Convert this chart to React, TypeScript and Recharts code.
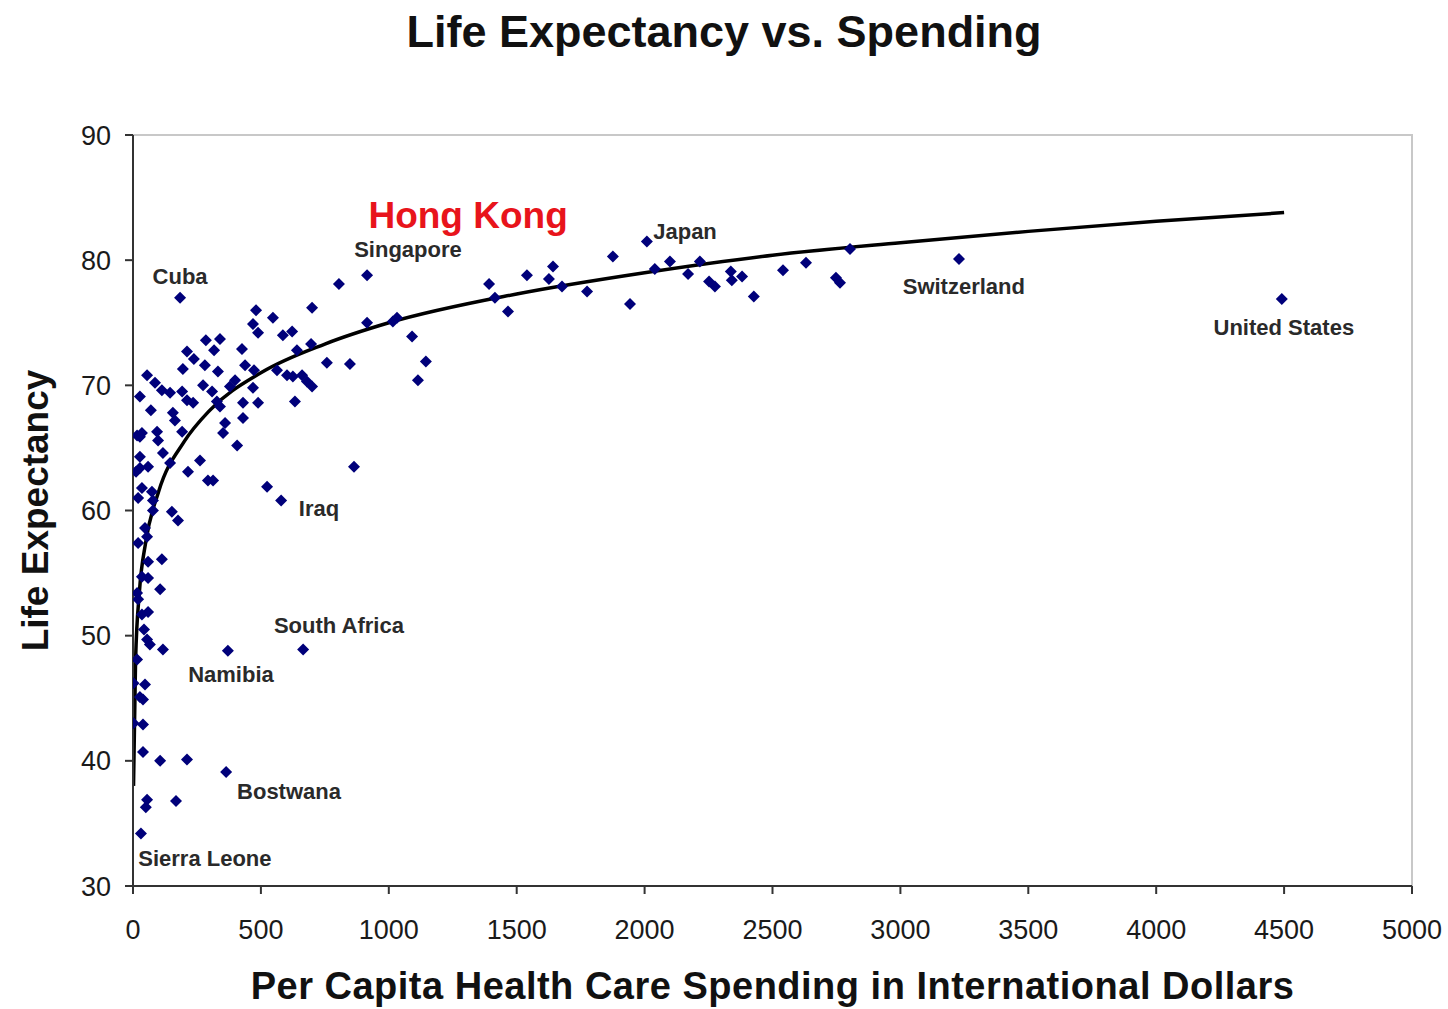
import React from 'react'
import {
  ComposedChart,
  Scatter,
  Line,
  XAxis,
  YAxis,
  ReferenceArea,
} from 'recharts'

// spending (international $) and life expectancy for each country
const spending = [
  184, 915, 2009, 3229, 4491, 579, 524, 665, 371, 364, 31,
  211, 106, 168, 50, 55, 39, 117, 55, 106, 113,
  481, 547, 700, 805, 469, 489, 586, 622, 285, 340,
  211, 238, 317, 426, 195, 281, 332, 438, 473, 641, 696,
  915, 1016, 1032, 1091, 1145, 1114, 758, 848,
  55, 86, 113, 145, 192, 211, 235,
  274, 309, 328, 340, 379, 399, 469, 489, 430,
  563, 602, 625, 661, 680, 700, 633,
  70, 156, 164, 94, 35, 98, 192, 117,
  360, 352, 430, 407,
  27, 27, 59, 145, 262, 215, 293, 313,
  35, 74, 78, 152, 176, 78, 864,
  47, 55, 20, 59, 35, 59, 16, 20, 59, 35, 66, 16, 2, 47, 27, 39, 2, 39,
  16, 27, 12, 27, 20, 43,
  1392, 1415, 1466, 1540, 1642, 1626, 1677, 1775, 1876, 1943,
  2040, 2099, 2170, 2216, 2252, 2275, 2337, 2341, 2381, 2427,
  2541, 2631, 2748, 2764, 2803,
]
const lifeExpectancy = [
  77.0, 78.8, 81.5, 80.1, 76.9, 60.8, 61.9, 48.9, 48.8, 39.1, 34.2,
  40.1, 40.0, 36.8, 36.3, 36.9, 40.7, 48.9, 49.7, 53.7, 56.1,
  76.0, 75.4, 76.2, 78.1, 74.9, 74.2, 74.0, 74.3, 73.6, 73.7,
  72.7, 72.1, 72.8, 72.9, 71.3, 71.6, 71.1, 71.6, 71.2, 72.8, 73.3,
  75.0, 75.1, 75.4, 73.9, 71.9, 70.4, 71.8, 71.7,
  70.8, 70.2, 69.6, 69.4, 69.5, 68.8, 68.6,
  70.0, 69.5, 68.7, 68.3, 69.9, 70.4, 69.8, 68.6, 68.6,
  71.2, 70.8, 70.7, 70.8, 70.3, 69.9, 68.7,
  68.0, 67.8, 67.2, 66.3, 66.2, 65.6, 66.3, 64.6,
  67.0, 66.2, 67.4, 65.2,
  64.3, 63.4, 63.5, 63.8, 64.0, 63.1, 62.4, 62.4,
  61.8, 61.5, 60.8, 59.9, 59.2, 60.0, 63.5,
  58.6, 57.9, 57.4, 55.9, 54.7, 54.6, 53.4, 52.9, 51.9, 51.7, 49.3, 48.1, 46.2, 46.1, 45.1, 44.9, 43.0, 42.9,
  66.0, 65.9, 63.1, 69.1, 61.0, 50.5,
  78.1, 77.0, 75.9, 78.8, 79.5, 78.5, 77.9, 77.5, 80.3, 76.5,
  79.3, 79.9, 78.9, 79.9, 78.3, 77.9, 79.1, 78.4, 78.7, 77.1,
  79.2, 79.8, 78.6, 78.2, 80.9,
]

// fitted trend curve
const trendSpending = [2, 10, 25, 50, 100, 200, 300, 500, 750, 1000, 1500, 2000, 2500, 3000, 3500, 4000, 4500]
const trendLife = [38, 48, 53.5, 57.5, 61.5, 65.5, 68, 71, 73.3, 75, 77.3, 79, 80.4, 81.4, 82.3, 83.1, 83.8]

// country annotations (text centre, in data units)
const labelText = ['Cuba', 'Singapore', 'Japan', 'Switzerland', 'United States', 'Iraq', 'South Africa', 'Namibia', 'Bostwana', 'Sierra Leone']
const labelX = [184, 1075, 2158, 3248, 4499, 727, 805, 383, 610, 281]
const labelY = [78.66, 80.85, 82.3, 77.86, 74.66, 60.13, 50.78, 46.87, 37.52, 32.17]

const highlightText = ['Hong Kong']
const highlightX = [1310]
const highlightY = [83.6]

const xTicks = [0, 500, 1000, 1500, 2000, 2500, 3000, 3500, 4000, 4500, 5000]
const yTicks = [30, 40, 50, 60, 70, 80, 90]

const points = spending.map((x, i) => ({ x, y: lifeExpectancy[i] }))
const trend = trendSpending.map((x, i) => ({ x, y: trendLife[i] }))
const labels = labelText.map((text, i) => ({ x: labelX[i], y: labelY[i], text }))
const highlights = highlightText.map((text, i) => ({ x: highlightX[i], y: highlightY[i], text }))

const FONT = '"Liberation Sans", Arial, sans-serif'

const Diamond = (props: any) => {
  const { cx, cy } = props
  const s = 6
  return (
    <polygon
      points={`${cx},${cy - s} ${cx + s},${cy} ${cx},${cy + s} ${cx - s},${cy}`}
      fill="#00007a"
    />
  )
}

const CountryLabel = (props: any) => {
  const { cx, cy, payload } = props
  return (
    <text x={cx} y={cy} textAnchor="middle" dominantBaseline="central"
      fontFamily={FONT} fontWeight="bold" fontSize={22} fill="#2a2a2a">
      {payload.text}
    </text>
  )
}

const HighlightLabel = (props: any) => {
  const { cx, cy, payload } = props
  return (
    <text x={cx} y={cy} textAnchor="middle" dominantBaseline="central"
      fontFamily={FONT} fontWeight="bold" fontSize={37} fill="#e8141b">
      {payload.text}
    </text>
  )
}

const YTitle = (props: any) => {
  const { viewBox } = props
  const x = viewBox.x + 35
  const y = viewBox.y + viewBox.height / 2
  return (
    <text x={x} y={y} transform={`rotate(-90, ${x}, ${y})`} textAnchor="middle"
      dominantBaseline="central" fontFamily={FONT} fontWeight="bold" fontSize={37} fill="#111">
      Life Expectancy
    </text>
  )
}

const XTitle = (props: any) => {
  const { viewBox } = props
  const x = viewBox.x + viewBox.width / 2
  const y = viewBox.y + 100
  return (
    <text x={x} y={y} textAnchor="middle" dominantBaseline="central"
      fontFamily={FONT} fontWeight="bold" fontSize={38} fill="#111" letterSpacing={0.5}>
      Per Capita Health Care Spending in International Dollars
    </text>
  )
}

const tickStyle = { fontFamily: FONT, fontSize: 27, fill: '#1a1a1a' }

export default function App() {
  return (
    <div style={{ position: 'absolute', left: 0, top: 0, width: 1448, height: 1009, background: '#fff' }}>
      <div style={{
        position: 'absolute', left: 0, top: 7, width: 1448, textAlign: 'center',
        fontFamily: FONT, fontWeight: 'bold', fontSize: 45, color: '#111', lineHeight: '50px',
      }}>
        Life Expectancy vs. Spending
      </div>
      <ComposedChart width={1448} height={1009} margin={{ top: 135, right: 36, bottom: 0, left: 0 }}>
        <ReferenceArea x1={0} x2={5000} y1={30} y2={90} fill="none" stroke="#c8c8c8" strokeWidth={2} ifOverflow="extendDomain" />
        <XAxis
          dataKey="x"
          type="number"
          domain={[0, 5000]}
          ticks={xTicks}
          allowDataOverflow
          tickSize={8}
          tickMargin={26}
          tick={tickStyle}
          axisLine={{ stroke: '#333', strokeWidth: 2 }}
          tickLine={{ stroke: '#333', strokeWidth: 2 }}
          height={123}
          label={<XTitle />}
        />
        <YAxis
          dataKey="y"
          type="number"
          domain={[30, 90]}
          ticks={yTicks}
          allowDataOverflow
          tickSize={8}
          tickMargin={14}
          tick={tickStyle}
          axisLine={{ stroke: '#333', strokeWidth: 2 }}
          tickLine={{ stroke: '#333', strokeWidth: 2 }}
          width={133}
          label={<YTitle />}
        />
        <Scatter data={points} shape={<Diamond />} isAnimationActive={false} />
        <Line data={trend} dataKey="y" type="monotone" stroke="#000" strokeWidth={3.5} dot={false} isAnimationActive={false} />
        <Scatter data={labels} shape={<CountryLabel />} isAnimationActive={false} />
        <Scatter data={highlights} shape={<HighlightLabel />} isAnimationActive={false} />
      </ComposedChart>
    </div>
  )
}
